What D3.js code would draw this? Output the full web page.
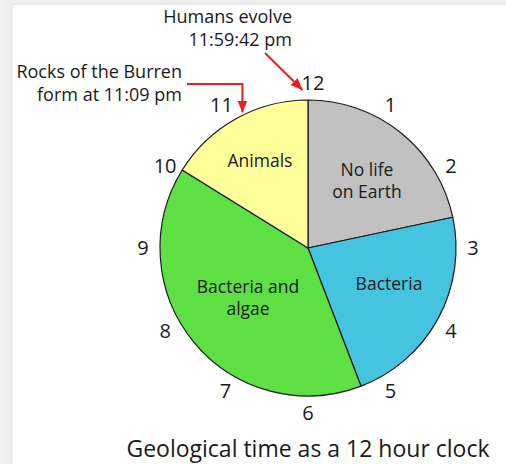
<!DOCTYPE html>
<html>
<head>
<meta charset="utf-8">
<script src="https://cdn.jsdelivr.net/npm/d3@7"></script>
<style>
  body { margin: 0; background: #fff; }
  text { font-family: "Open Sans", Lato, sans-serif; fill: #1a1a1a; }
</style>
</head>
<body>
<div id="chart"></div>
<script>
// eras, as hours on a 12 hour clock (whole history of the Earth = 12 h)
const eras = ['No life on Earth', 'Bacteria', 'Bacteria and algae', 'Animals'];
const hours = [2.6, 2.7, 4.76, 1.94];
const eraLabels = [['No life', 'on Earth'], ['Bacteria'], ['Bacteria and', 'algae'], ['Animals']];
const eraColors = ['#c1c1c1', '#44c4df', '#5ee044', '#fefe9a'];
const clockNumbers = [12, 1, 2, 3, 4, 5, 6, 7, 8, 9, 10, 11];
// events marked with red arrows, time in hours
const events = [
  {lines: ['Humans evolve', '11:59:42 pm'], time: 11 + 59 / 60 + 42 / 3600},
  {lines: ['Rocks of the Burren', 'form at 11:09 pm'], time: 11 + 9 / 60},
];
const title = 'Geological time as a 12 hour clock';

const width = 506, height = 464;
const cx = 308, cy = 248, r = 148;
const labelR = 165;

const svg = d3.select('#chart').append('svg')
  .attr('width', width).attr('height', height);

// soft shadow on left and top of the page
const defs = svg.append('defs');
const gl = defs.append('linearGradient').attr('id', 'shL');
gl.append('stop').attr('offset', 0).attr('stop-color', '#f3f3f3');
gl.append('stop').attr('offset', 1).attr('stop-color', '#ececec');
const gt = defs.append('linearGradient').attr('id', 'shT').attr('x1', 0).attr('x2', 0).attr('y1', 0).attr('y2', 1);
gt.append('stop').attr('offset', 0).attr('stop-color', '#f1f1f1');
gt.append('stop').attr('offset', 1).attr('stop-color', '#e8e8e8');
svg.append('rect').attr('width', 13).attr('height', height).attr('fill', 'url(#shL)');
svg.append('rect').attr('x', 13).attr('width', width - 13).attr('height', 5).attr('fill', 'url(#shT)');

const angle = d3.scaleLinear().domain([0, 12]).range([0, 2 * Math.PI]);
const pt = (h, rad) => [cx + rad * Math.sin(angle(h)), cy - rad * Math.cos(angle(h))];

const pie = d3.pie().sort(null).value(d => d)
  .startAngle(0).endAngle(2 * Math.PI);
const arcs = pie(hours);
const arc = d3.arc().innerRadius(0).outerRadius(r);

const g = svg.append('g').attr('transform', `translate(${cx},${cy})`);
g.selectAll('path.slice').data(arcs).join('path')
  .attr('class', 'slice')
  .attr('d', arc)
  .attr('fill', (d, i) => eraColors[i])
  .attr('stroke', '#1a1a1a')
  .attr('stroke-width', 1.2)
  .attr('stroke-linejoin', 'round');

// slice labels (hand placed offsets relative to the centre)
const labelPos = [[59, -67], [81, 36], [-60, 50], [-48, -87]];
g.selectAll('text.era').data(arcs).join('text')
  .attr('class', 'era')
  .attr('text-anchor', 'middle')
  .attr('font-size', 17.5)
  .each(function(d, i) {
    const lines = eraLabels[i];
    const t = d3.select(this);
    lines.forEach((l, j) => {
      t.append('tspan')
        .attr('x', labelPos[i][0])
        .attr('y', labelPos[i][1] + (j - (lines.length - 1) / 2) * 22)
        .attr('dy', '0.35em')
        .text(l);
    });
  });

// clock numbers (12 and 11 nudged as in the original)
const nudge = {0: 5, 11: -4};
svg.selectAll('text.num').data(clockNumbers).join('text')
  .attr('class', 'num')
  .attr('x', (d, i) => pt(i, labelR)[0] + (nudge[i] || 0))
  .attr('y', (d, i) => pt(i, labelR)[1])
  .attr('dy', '0.36em')
  .attr('text-anchor', 'middle')
  .attr('font-size', 20)
  .text(d => d);

// red arrows
defs.append('marker')
  .attr('id', 'head').attr('viewBox', '0 0 12 10')
  .attr('refX', 12).attr('refY', 5)
  .attr('markerWidth', 12).attr('markerHeight', 10)
  .attr('markerUnits', 'userSpaceOnUse')
  .attr('orient', 'auto')
  .append('path').attr('d', 'M0,0L12,5L0,10Z').attr('fill', '#ee1c1c');

const humansTip = pt(events[0].time, r + 10);
humansTip[0] -= 5;
svg.append('path')
  .attr('d', d3.line()([[265, 53], humansTip]))
  .attr('stroke', '#ee1c1c').attr('stroke-width', 2).attr('fill', 'none')
  .attr('marker-end', 'url(#head)');

const rocksTip = pt(events[1].time, r + 2);
svg.append('path')
  .attr('d', d3.line()([[187, 84], [rocksTip[0] - 1, 84], [rocksTip[0] - 1, rocksTip[1]]]))
  .attr('stroke', '#ee1c1c').attr('stroke-width', 2).attr('fill', 'none')
  .attr('marker-end', 'url(#head)');

// annotation texts
const notePos = [[292, 17], [182, 72]];
svg.selectAll('text.note').data(events).join('text')
  .attr('class', 'note')
  .attr('text-anchor', 'end')
  .attr('font-size', 18)
  .each(function(d, i) {
    d3.select(this).selectAll('tspan').data(d.lines).join('tspan')
      .attr('x', notePos[i][0])
      .attr('y', (l, j) => notePos[i][1] + j * 23)
      .attr('dy', '0.35em')
      .text(l => l);
  });

svg.append('text')
  .attr('x', cx).attr('y', 449).attr('dy', '0.35em')
  .attr('text-anchor', 'middle')
  .attr('font-size', 23)
  .text(title);
</script>
</body>
</html>
